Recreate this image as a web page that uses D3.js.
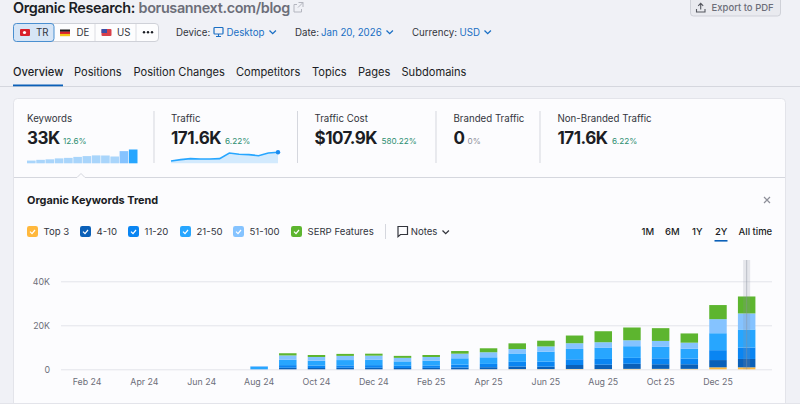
<!DOCTYPE html>
<html>
<head>
<meta charset="utf-8">
<script src="https://cdn.jsdelivr.net/npm/d3@7"></script>
<style>
html,body{margin:0;padding:0;background:#f0f1f6;overflow:hidden}
svg{display:block}
text{font-family:Inter,"Noto Sans",sans-serif}
</style>
</head>
<body>
<div id="chart-area"></div>
<script>
const months = ["Feb 24","Mar 24","Apr 24","May 24","Jun 24","Jul 24","Aug 24","Sep 24","Oct 24","Nov 24","Dec 24","Jan 25",
  "Feb 25","Mar 25","Apr 25","May 25","Jun 25","Jul 25","Aug 25","Sep 25","Oct 25","Nov 25","Dec 25","Jan 26"];
const xTicks = ["Feb 24","Apr 24","Jun 24","Aug 24","Oct 24","Dec 24","Feb 25","Apr 25","Jun 25","Aug 25","Oct 25","Dec 25"];
const yTicks = [0, 20000, 40000];

// keywords per position bucket
const top3   = [0,0,0,0,0,0,0,  0,0,0,0,0,  0,0,50,100,100,150,100,200,200,200,900,900];
const pos4   = [0,0,0,0,0,0,0,  700,600,700,700,600,  650,800,900,1200,1100,1800,2000,2300,2100,2100,3300,3800];
const pos11  = [0,0,0,0,0,0,100,  1200,1100,1100,1200,1000,  1100,1300,1500,2100,2300,2600,2600,2700,2700,2600,4500,5200];
const pos21  = [0,0,0,0,0,0,1000,  2400,2200,2400,2400,2000,  2200,2900,3000,3800,4500,4700,5200,5300,5200,4500,7700,8200];
const pos51  = [0,0,0,0,0,0,400,  2000,1700,1900,1900,1600,  1650,2100,2300,2000,2400,2600,2400,2700,2700,2700,6400,7300];
const serp   = [0,0,0,0,0,0,0,  1000,900,900,900,900,  900,1200,1800,2600,2600,3500,5000,5800,5800,4200,6400,7700];

const seriesNames = ["Top 3","4-10","11-20","21-50","51-100","SERP Features"];
const seriesColors = ["#ffb83d","#0b60b8","#0a85f2","#27a6ff","#85c3ff","#5db52f"];
const seriesValues = [top3,pos4,pos11,pos21,pos51,serp];

const legendX = [27,80,128,180,233,291];
const trafficSpark = [36,57,73,68,68,73,161,140,135,119,161,171.6];

const metricNames = ["Keywords","Traffic","Traffic Cost","Branded Traffic","Non-Branded Traffic"];
const metricValues = ["33K","171.6K","$107.9K","0","171.6K"];
const metricPct = ["12.6%","6.22%","580.22%","0%","6.22%"];
const metricX = [27,171,314.5,453.5,557.5];
const metricPctX = [63,225,381.5,467.5,612];

const tabs = ["Overview","Positions","Position Changes","Competitors","Topics","Pages","Subdomains"];
const tabX = [13,74,133.5,236,312,358,401.5];
const ranges = ["1M","6M","1Y","2Y","All time"];
const rangeX = [641.5,665,692,715,738.5];

const ink = "#1b1d24", grey = "#6c6e79", link = "#1a6fc4";

let svg = d3.select("#chart-area").append("svg").attr("width",800).attr("height",404);

function label(x, y, str, size, color, weight, anchor) {
    return svg.append("text").attr("x",x).attr("y",y).text(str)
        .attr("font-size",size).attr("fill",color||ink)
        .attr("font-weight",weight||400).attr("text-anchor",anchor||"start");
}
function chevron(x, y, color) {
    svg.append("path").attr("d",`M${x} ${y}l3.2 3.2l3.2 -3.2`).attr("fill","none")
        .attr("stroke",color||link).attr("stroke-width",1.3);
}

// header
label(13,13,"Organic Research:",14.4,ink,600).attr("letter-spacing",-0.35);
label(138.5,13,"borusannext.com/blog",14.4,grey,600).attr("letter-spacing",-0.35);
svg.append("path").attr("d","M297 4.5h-3v7.5h7.5v-3M298.5 2.5h4.5v4.5M303 2.5l-5 5").attr("fill","none").attr("stroke","#b4b6bf").attr("stroke-width",1);

svg.append("rect").attr("x",690.5).attr("y",-4).attr("width",90).attr("height",20).attr("rx",3)
    .attr("fill","#e9eaef").attr("stroke","#cfd1d8");
svg.append("path").attr("d","M696.5 9v3h8.5v-3M700.7 9.5v-6M698.2 5.8l2.5 -2.5l2.5 2.5").attr("fill","none").attr("stroke","#55575f").attr("stroke-width",1.1);
label(711.5,11,"Export to PDF",9.5,grey,500);

// country buttons
svg.append("rect").attr("x",13.5).attr("y",23.5).attr("width",145).attr("height",18).attr("rx",3.5)
    .attr("fill","#fdfdfe").attr("stroke","#cfd1d8");
svg.append("rect").attr("x",13.5).attr("y",23.5).attr("width",40.5).attr("height",18).attr("rx",3)
    .attr("fill","#d6e5f6").attr("stroke","#4a8fd0");
[95,136].forEach(x => svg.append("line").attr("x1",x).attr("x2",x).attr("y1",24).attr("y2",41).attr("stroke","#dcdde3"));
svg.append("rect").attr("x",20).attr("y",29).attr("width",10).attr("height",7).attr("rx",1).attr("fill","#d9202b");
svg.append("circle").attr("cx",24.5).attr("cy",32.5).attr("r",1.6).attr("fill","#fff");
["#1a1a1a","#d9202b","#f5c518"].forEach((c,i) => svg.append("rect").attr("x",60).attr("y",29.5+i*2.2).attr("width",10).attr("height",2.3).attr("fill",c));
svg.append("rect").attr("x",101.5).attr("y",29).attr("width",10).attr("height",7).attr("rx",1).attr("fill","#d8404a");
svg.append("rect").attr("x",101.5).attr("y",29).attr("width",5.5).attr("height",4).attr("fill","#3c4fa8");
label(36,36,"TR",9.7,"#33353d");
label(76.5,36,"DE",9.7,"#33353d");
label(117,36,"US",9.7,"#33353d");
[144,148,152].forEach(x => svg.append("circle").attr("cx",x).attr("cy",32.3).attr("r",1.2).attr("fill",ink));

label(176,36,"Device:",9.7,"#33353d");
svg.append("rect").attr("x",214).attr("y",27.5).attr("width",9).attr("height",6.5).attr("rx",.8).attr("fill","none").attr("stroke",link).attr("stroke-width",1.2);
svg.append("path").attr("d","M216 36.5h5M218.5 34v2.5").attr("stroke",link).attr("stroke-width",1.1);
label(226.5,36,"Desktop",9.7,link);
chevron(269.5,30.5);
label(295,36,"Date:",9.7,"#33353d");
label(321,36,"Jan 20, 2026",9.7,link);
chevron(386.5,30.5);
label(412,36,"Currency:",9.7,"#33353d");
label(459.5,36,"USD",9.7,link);
chevron(484.5,30.5);

// tabs
svg.append("rect").attr("x",0).attr("y",86).attr("width",800).attr("height",1).attr("fill","#d5d7de");
tabs.forEach((t,i) => label(tabX[i],76,t,11.1,ink,i==0?500:400));
svg.append("rect").attr("x",13).attr("y",84.5).attr("width",50).attr("height",1.8).attr("fill","#0b60b8");

// card
svg.append("rect").attr("x",13.5).attr("y",98.5).attr("width",772).attr("height",320).attr("rx",4)
    .attr("fill","#fcfcfe").attr("stroke","#e3e4ea");
svg.append("rect").attr("x",0).attr("y",403).attr("width",800).attr("height",1).attr("fill","#e3e4ea");
svg.append("path").attr("d","M14 177.5H77L81 173.5L85 177.5H785").attr("fill","none").attr("stroke","#d5d7de");

// metrics
metricNames.forEach((m,i) => {
    label(metricX[i],122,m,9.7,"#33353d");
    label(metricX[i],144,metricValues[i],17,ink,700).attr("letter-spacing",-0.5);
    label(metricPctX[i],144,metricPct[i],8.2,i==3?"#8d8f99":"#2f8f72");
});
[154,297.5,436,540].forEach(x => svg.append("line").attr("x1",x).attr("x2",x).attr("y1",111).attr("y2",163).attr("stroke","#d5d7de"));

// stacked totals feed the keywords sparkline
let rows = months.map((m,i) => {
    let r = {month:m};
    seriesNames.forEach((s,j) => { r[s] = seriesValues[j][i]; });
    return r;
});
let totals = rows.map(r => d3.sum(seriesNames, s => r[s]));
let sparkTotals = totals.slice(-12);

let sx = d3.scaleBand().domain(d3.range(12)).range([27,137.5]).paddingInner(0.07);
let sy = d3.scaleLinear().domain([0,d3.max(sparkTotals)]).range([163.3,149.5]);
svg.selectAll("rect.spark").data(sparkTotals).enter().append("rect").attr("class","spark")
    .attr("x",(d,i) => sx(i)).attr("y",d => sy(d))
    .attr("width",sx.bandwidth()).attr("height",d => 163.3 - sy(d))
    .attr("fill",(d,i) => i==11 ? "#27a6ff" : i==10 ? "#85c3ff" : "#a9d5fb");

let tx = d3.scalePoint().domain(d3.range(12)).range([171,278]);
let ty = d3.scaleLinear().domain([0,171.6]).range([163.3,152.3]);
svg.append("path").datum(trafficSpark).attr("fill","#d3eafd")
    .attr("d",d3.area().x((d,i) => tx(i)).y0(163.3).y1(d => ty(d)));
svg.append("path").datum(trafficSpark).attr("fill","none").attr("stroke","#27a6ff").attr("stroke-width",1.6)
    .attr("d",d3.line().x((d,i) => tx(i)).y(d => ty(d)));
svg.append("circle").attr("cx",tx(11)).attr("cy",ty(171.6)).attr("r",2.2).attr("fill","#1a8cf0");

// chart title + controls
label(27,204,"Organic Keywords Trend",10.9,ink,700);
svg.append("path").attr("d","M764 197l6 6M770 197l-6 6").attr("stroke","#8d8f99").attr("stroke-width",1.2);

seriesNames.forEach((s,i) => {
    svg.append("rect").attr("x",legendX[i]).attr("y",226).attr("width",11).attr("height",11).attr("rx",2.2).attr("fill",seriesColors[i]);
    svg.append("path").attr("d",`M${legendX[i]+3} 231.6l2 2l3 -3.6`).attr("fill","none").attr("stroke","#fff").attr("stroke-width",1.2);
    label(legendX[i]+16.5,235,s,9.6,"#33353d");
});
svg.append("line").attr("x1",385.5).attr("x2",385.5).attr("y1",224).attr("y2",239).attr("stroke","#d5d7de");
svg.append("path").attr("d","M398 226.5h9.5v8h-7l-2.5 2.2z").attr("fill","none").attr("stroke","#33353d").attr("stroke-width",1.2);
label(410.7,234.5,"Notes",9.6,"#33353d");
chevron(442.5,230.5,"#33353d");

ranges.forEach((r,i) => label(rangeX[i],235,r,9.5,ink,500));
svg.append("rect").attr("x",714.5).attr("y",240).attr("width",13).attr("height",1.6).attr("fill","#0b60b8");

// chart
let x = d3.scaleBand().domain(months).range([72.7,761]).paddingInner(0.39).paddingOuter(0.195);
let y = d3.scaleLinear().domain([0,40000]).range([369.3,281.3]);

let yAxis = d3.axisLeft(y).tickValues(yTicks).tickSize(-711).tickPadding(11)
    .tickFormat(d => d == 0 ? "0" : (d/1000) + "K");
let gy = svg.append("g").attr("transform","translate(61,0)").call(yAxis);
gy.select(".domain").remove();
gy.selectAll("line").attr("stroke","#e3e4ea");
gy.selectAll("text").attr("font-size",8.8).attr("fill",grey).style("font-family","Inter");

let xAxis = d3.axisBottom(x).tickValues(xTicks).tickSize(0).tickPadding(9);
let gx = svg.append("g").attr("transform","translate(0,369.3)").call(xAxis);
gx.select(".domain").remove();
gx.selectAll("text").attr("font-size",8.8).attr("fill",grey).style("font-family","Inter");

let stacked = d3.stack().keys(seriesNames)(rows);
svg.selectAll("g.layer").data(stacked).enter().append("g").attr("class","layer")
    .attr("fill",(d,i) => seriesColors[i])
    .selectAll("rect").data(d => d.filter(v => v[1] > v[0])).enter().append("rect")
    .attr("x",d => x(d.data.month))
    .attr("y",d => y(d[1]))
    .attr("width",x.bandwidth())
    .attr("height",d => y(d[0]) - y(d[1]));

// hover marker on the last month
let hoverX = x("Jan 26") + x.bandwidth()/2;
svg.append("rect").attr("x",hoverX-3.5).attr("y",260).attr("width",7).attr("height",109.3)
    .attr("fill","#8a93a0").attr("fill-opacity",0.2);
svg.append("line").attr("x1",hoverX).attr("x2",hoverX).attr("y1",260).attr("y2",369.3)
    .attr("stroke","#8a93a0").attr("stroke-opacity",0.45);
</script>
</body>
</html>
